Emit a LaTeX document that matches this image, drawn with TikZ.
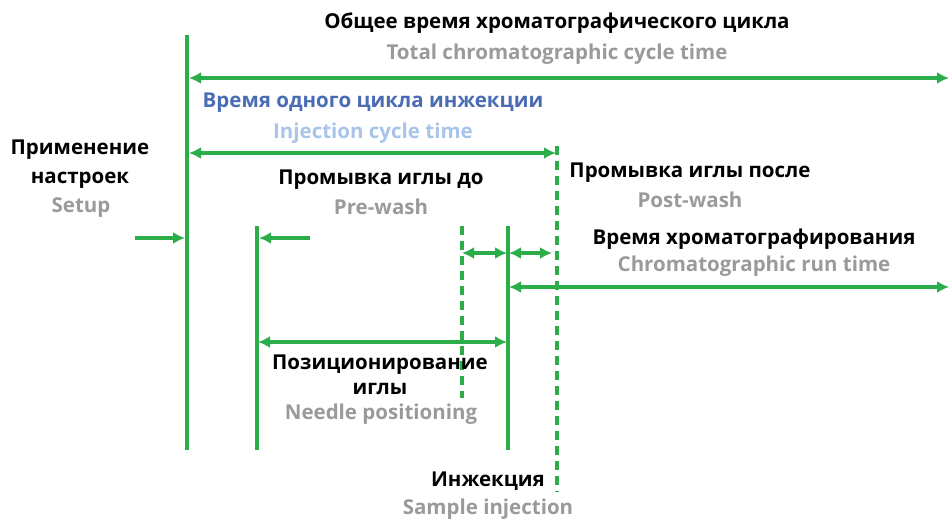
\documentclass[tikz,border=0pt]{standalone}
\usepackage{fontspec}
\setmainfont{Open Sans}
\usetikzlibrary{arrows.meta}
\definecolor{gline}{HTML}{2BAE4A}
\definecolor{gtext}{HTML}{9A9A9A}
\definecolor{btext}{HTML}{4A6CB5}
\definecolor{lbtext}{HTML}{A8C4EA}
\tikzset{
  x=1pt, y=-1pt,
  ru/.style={font=\fontsize{20.5}{25}\selectfont\bfseries, text=black, inner sep=0pt},
  en/.style={font=\fontsize{20.5}{25}\selectfont\bfseries, text=gtext, inner sep=0pt},
  bar/.style={draw=gline, line width=3.3pt},
  mainbar/.style={draw=gline, line width=4.8pt},
  dbar/.style={draw=gline, line width=3.3pt, dash pattern=on 9pt off 6pt},
  span/.style={draw=gline, line width=3.1pt, {Latex[length=12pt,width=12pt]}-{Latex[length=12pt,width=12pt]}},
  onehead/.style={draw=gline, line width=3.1pt, -{Latex[length=12pt,width=12pt]}},
}
\begin{document}
\begin{tikzpicture}
\useasboundingbox (0,0) rectangle (949,520);

% vertical markers
\coordinate (t0top) at (187,35);  \coordinate (t0bot) at (187,450);
\coordinate (npTop) at (257,226); \coordinate (npBot) at (257,450);
\coordinate (pwTop) at (462,226); \coordinate (pwBot) at (462,398);
\coordinate (injTop) at (508,226); \coordinate (injBot) at (508,450);
\coordinate (icTop) at (557,146); \coordinate (icBot) at (557,492);
\draw[mainbar] (t0top) -- (t0bot);
\draw[bar] (npTop) -- (npBot);
\draw[bar] (injTop) -- (injBot);
\draw[dbar] (pwTop) -- (pwBot);
\draw[dbar] (icTop) -- (icBot);

% interval arrows
\coordinate (totL) at (189,78);  \coordinate (totR) at (949,78);
\coordinate (icL) at (189,153);  \coordinate (icR) at (556,153);
\coordinate (setL) at (135,238); \coordinate (setR) at (185,238);
\coordinate (preL) at (259,238); \coordinate (preR) at (310,238);
\coordinate (pwaL) at (462,253); \coordinate (pwaR) at (507,253);
\coordinate (pwbL) at (509,253); \coordinate (pwbR) at (552,253);
\coordinate (runL) at (509,287); \coordinate (runR) at (949,287);
\coordinate (posL) at (258,342); \coordinate (posR) at (507,342);
\draw[span] (totL) -- (totR);
\draw[span] (icL) -- (icR);
\draw[onehead] (setL) -- (setR);
\draw[onehead] (preR) -- (preL);
\draw[span] (pwaL) -- (pwaR);
\draw[span] (pwbL) -- (pwbR);
\draw[span] (runL) -- (runR);
\draw[span] (posL) -- (posR);

% labels
\node[ru] (totRu) at (557,23) {Общее время хроматографического цикла};
\node[en] (totEn) at (557,54) {Total chromatographic cycle time};
\node[ru, text=btext] (icRu) at (373,103) {Время одного цикла инжекции};
\node[en, text=lbtext] (icEn) at (373,133) {Injection cycle time};
\node[ru, align=center, font=\fontsize{20.5}{28.5}\selectfont\bfseries] (setRu) at (80,164) {Применение\\настроек};
\node[en] (setEn) at (81,208) {Setup};
\node[ru] (preRu) at (381,180) {Промывка иглы до};
\node[en] (preEn) at (381,207) {Pre-wash};
\node[ru] (postRu) at (690,173) {Промывка иглы после};
\node[en] (postEn) at (690,200) {Post-wash};
\node[ru] (runRu) at (754,239) {Время хроматографирования};
\node[en] (runEn) at (754,266) {Chromatographic run time};
\node[ru, align=center] (posRu) at (380,375) {Позиционирование\\иглы};
\node[en] (posEn) at (381,414) {Needle positioning};
\node[ru] (injRu) at (488,481) {Инжекция};
\node[en] (injEn) at (488,509) {Sample injection};
\end{tikzpicture}
\end{document}
